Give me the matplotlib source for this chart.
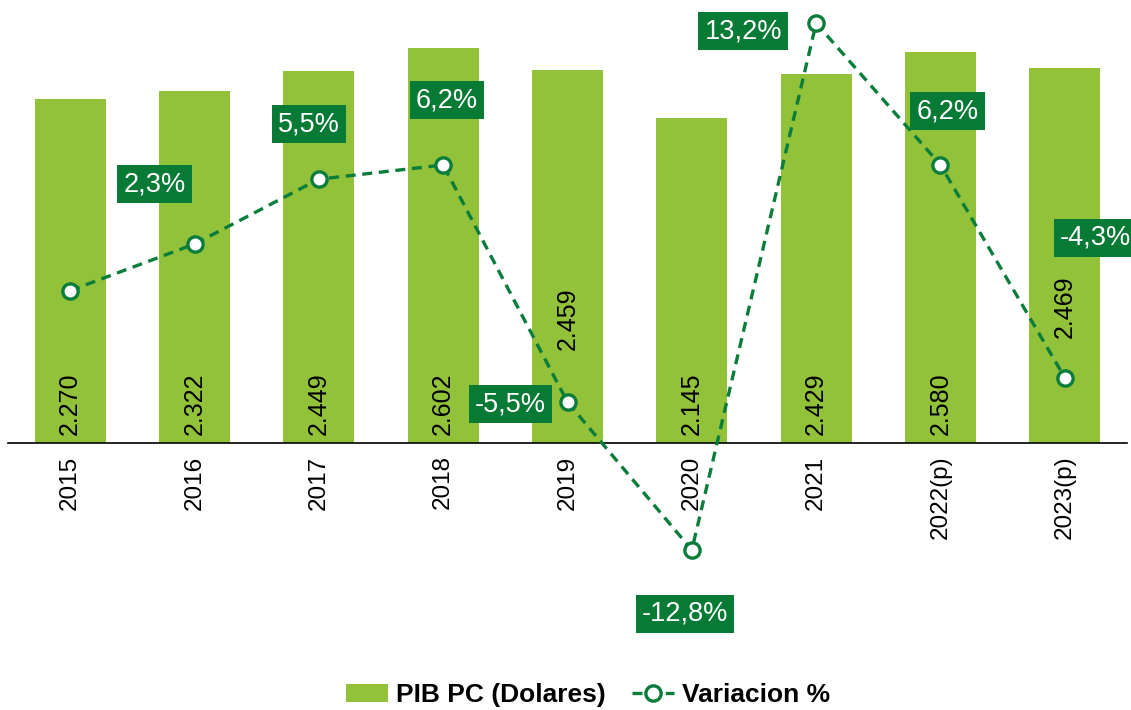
import matplotlib.pyplot as plt
import numpy as np

plt.rcParams['font.family'] = ['Liberation Sans', 'DejaVu Sans']

years = ["2015", "2016", "2017", "2018", "2019", "2020", "2021", "2022(p)", "2023(p)"]
pib_pc = [2270, 2322, 2449, 2602, 2459, 2145, 2429, 2580, 2469]
variacion = [0.0, 2.3, 5.5, 6.2, -5.5, -12.8, 13.2, 6.2, -4.3]
show_var = [False, True, True, True, True, True, True, True, True]

bar_color = "#92c13a"
line_color = "#0a7d3a"
box_color = "#077a35"

fig = plt.figure(figsize=(11.31, 7.10), dpi=100)
ax = fig.add_axes([8 / 1131, 1 - 443 / 710, 1119 / 1131, 433 / 710])
x = np.arange(len(years))

ax.bar(x, pib_pc, width=0.57, color=bar_color, label="PIB PC (Dolares)", zorder=1)
ax.set_xlim(-0.5, len(years) - 0.5)
ax.set_ylim(0, 2854)

for s in ["top", "left", "right"]:
    ax.spines[s].set_visible(False)
ax.spines["bottom"].set_linewidth(1.2)
ax.set_yticks([])
ax.set_xticks(x)
ax.set_xticklabels(years, rotation=90, fontsize=17.5)
ax.tick_params(axis="x", length=0, pad=9)

# valores dentro de las barras (2019 y 2023 van mas arriba para no tapar el punto)
for i, v in enumerate(pib_pc):
    txt = f"{v:,}".replace(",", ".")
    lift = 8
    if i == 4:
        lift = 93
    elif i == 8:
        lift = 105
    ax.annotate(txt, (x[i], 0), xytext=(0, lift), textcoords="offset pixels",
                rotation=90, ha="center", va="bottom", fontsize=18)

ax2 = ax.twinx()
ax2.set_ylim(-7.52, 13.85)
ax2.axis("off")
ax2.plot(x, variacion, linestyle=(0, (3, 2)), color=line_color, linewidth=2.4,
         marker="o", markersize=11, markerfacecolor="white", markeredgecolor=line_color,
         markeredgewidth=2.4, label="Variacion %", clip_on=False, zorder=3)

offsets = [(0, 0), (-40, 60), (-10, 55), (4, 65), (-57, -2), (-7, -64), (-73, -8), (7, 54), (31, 140)]
for i, v in enumerate(variacion):
    if not show_var[i]:
        continue
    ax2.annotate(f"{v:.1f}%".replace(".", ","), (x[i], v), xytext=offsets[i],
                 textcoords="offset pixels", ha="center", va="center", fontsize=19.5,
                 color="white", annotation_clip=False,
                 bbox=dict(boxstyle="square,pad=0.22", fc=box_color, ec="none"))

h1, l1 = ax.get_legend_handles_labels()
h2, l2 = ax2.get_legend_handles_labels()
fig.legend(h1 + h2, l1 + l2, loc="center", bbox_to_anchor=(588 / 1131, 1 - 695 / 710),
           ncol=2, frameon=False, prop={"weight": "bold", "size": 19},
           handlelength=1.6, handletextpad=0.3, columnspacing=1.0)

fig.savefig("out.png", dpi=100)
